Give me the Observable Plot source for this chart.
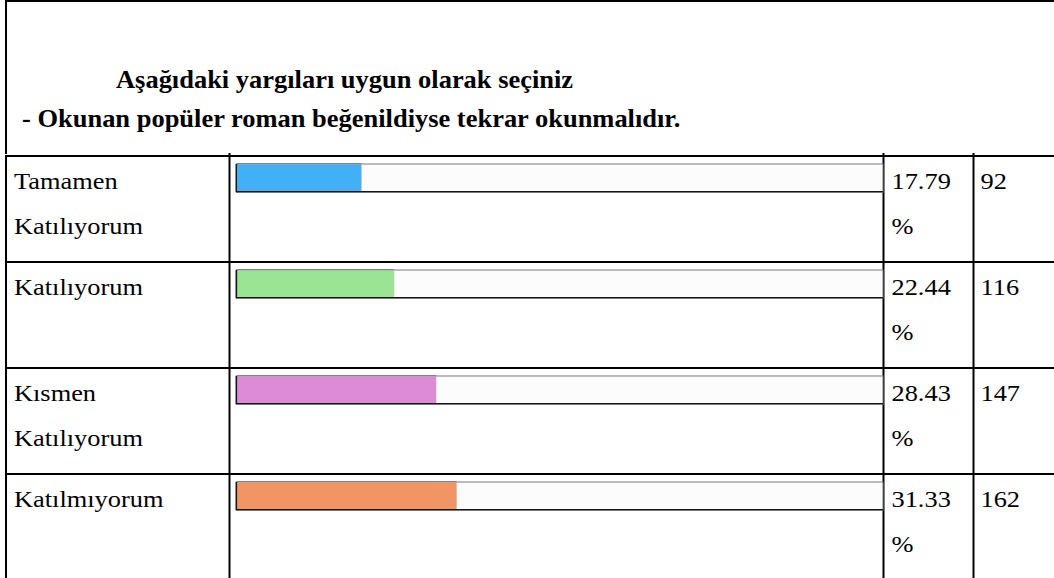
<!DOCTYPE html>
<html>
<head>
<meta charset="utf-8">
<script src="https://cdn.jsdelivr.net/npm/d3@7"></script>
<script src="https://cdn.jsdelivr.net/npm/@observablehq/plot@0.6"></script>
<style>
html,body{margin:0;padding:0;background:#fff;overflow:hidden;}
#wrap{position:relative;width:1054px;height:578px;overflow:hidden;color:#000;font-family:"Liberation Serif",serif;}
#header{position:absolute;left:0;top:0;}
#chart{position:absolute;left:0;top:153px;}
</style>
</head>
<body>
<div id="wrap">
  <div id="header"></div>
  <div id="chart"></div>
</div>
<script>
// ---- data ----
const titleLines = [
  "Aşağıdaki yargıları uygun olarak seçiniz",
  "- Okunan popüler roman beğenildiyse tekrar okunmalıdır."
];
const categories = ["Tamamen Katılıyorum", "Katılıyorum", "Kısmen Katılıyorum", "Katılmıyorum"];
const rowLabels = ["Tamamen\nKatılıyorum", "Katılıyorum", "Kısmen\nKatılıyorum", "Katılmıyorum"];
const percents = [17.79, 22.44, 28.43, 31.33];
const counts = [92, 116, 147, 162];
const barColors = ["#42b0f6", "#99e594", "#de8bd7", "#f39463"];

// ---- font metrics ----
const family = '"Liberation Serif", serif';
const ctx = document.createElement("canvas").getContext("2d");
function measure(text, weight) {
  ctx.font = `${weight} 100px ${family}`;
  const m = ctx.measureText(text);
  return {w: m.width / 100, cap: m.actualBoundingBoxAscent / 100};
}
// regular text: cap height ~15.1px; widths "Tamamen" ~106px, "17.79" ~58px
const capR = measure("T", "normal").cap || 0.662;
const fs = 15.1 / capR;
const stretch = (106 / (measure("Tamamen", "normal").w * fs) + 58 / (measure("17.79", "normal").w * fs)) / 2 || 1.165;
// bold title: cap height ~16.4px; widths ~453px and ~666px
const capB = measure("A", "bold").cap || 0.676;
const tfs = 16.4 / capB;
const tStretch = (453 / (measure(titleLines[0], "bold").w * tfs) + 666 / (measure(titleLines[1], "bold").w * tfs)) / 2 || 1.09;

// ---- header (title) ----
const header = d3.create("svg").attr("width", 1054).attr("height", 154).style("display", "block");
header.append("line").attr("x1", 6).attr("x2", 1060).attr("y1", 1).attr("y2", 1).attr("stroke", "#000").attr("stroke-width", 2);
header.append("line").attr("x1", 6).attr("x2", 6).attr("y1", 0).attr("y2", 154).attr("stroke", "#000").attr("stroke-width", 2);
const titlePos = [[116, 88], [22, 127]];
titleLines.forEach((t, i) => {
  header.append("text")
    .attr("transform", `translate(${titlePos[i][0]},${titlePos[i][1]}) scale(${tStretch},1)`)
    .attr("font-family", family).attr("font-weight", "bold").attr("font-size", tfs)
    .attr("fill", "#000").text(t);
});
document.getElementById("header").appendChild(header.node());

// ---- layout ----
const trackMax = 92;          // percent value reached at the right end of the bar track
const W = 1054, H = 425;
const rowTop = 1.4, rowH = 106.75;
const lineGap = 45;
const textDy = -rowH / 2 + 32.6 - 0.71 * lineGap;

const rows = categories.map((c, i) => ({
  cat: c,
  label: rowLabels[i],
  pct: percents[i],
  pctText: percents[i].toFixed(2) + "\n%",
  count: String(counts[i])
}));

const txt = {y: "cat", dy: textDy, textAnchor: "start", lineAnchor: "top", lineHeight: lineGap / fs, fontSize: fs, fill: "#000", fontFamily: family};

const chart = Plot.plot({
  width: W,
  height: H,
  marginTop: 0, marginBottom: 0, marginLeft: 0, marginRight: 0,
  x: {domain: [0, trackMax], range: [236.5, 883], axis: null},
  y: {domain: categories, range: [rowTop, rowTop + rowH * categories.length], padding: 0, axis: null},
  color: {domain: categories, range: barColors},
  style: {fontFamily: family, background: "transparent", overflow: "visible"},
  marks: [
    // row borders (also gives the outer left border)
    Plot.cell(rows, {y: "cat", fill: "none", stroke: "#000", strokeWidth: 2, insetLeft: 6, insetRight: -10}),
    // column separators
    Plot.ruleX([0], {dx: -7.5, stroke: "#000", strokeWidth: 2}),
    Plot.ruleX([trackMax], {stroke: "#000", strokeWidth: 2}),
    Plot.ruleX([trackMax], {dx: 90, stroke: "#000", strokeWidth: 2}),
    // bar track
    Plot.barX(rows, {x1: 0, x2: trackMax, y: "cat", fill: "#fcfcfc", stroke: "#7a7a7a", strokeWidth: 1, insetTop: 8, insetBottom: rowH - 37}),
    // value bars
    Plot.barX(rows, {x1: 0, x2: "pct", y: "cat", fill: "cat", insetLeft: 1, insetTop: 8.5, insetBottom: rowH - 36.5}),
    // dark top edge over the value part
    Plot.barX(rows, {x1: 0, x2: "pct", y: "cat", fill: "#2a2f38", insetTop: 7.6, insetBottom: rowH - 8.8}),
    // dark left edge of the track
    Plot.barX(rows, {x1: 0, x2: 0, y: "cat", fill: "#1a1a1a", insetLeft: -1, insetRight: -0.8, insetTop: 8, insetBottom: rowH - 37}),
    // dark bottom edge of the track
    Plot.barX(rows, {x1: 0, x2: trackMax, y: "cat", fill: "#151515", insetTop: 35, insetBottom: rowH - 37}),
    // texts
    Plot.text(rows, {...txt, x: 0, dx: -223, text: "label"}),
    Plot.text(rows, {...txt, x: trackMax, dx: 8, text: "pctText"}),
    Plot.text(rows, {...txt, x: trackMax, dx: 97, text: "count"})
  ]
});

chart.querySelectorAll("text").forEach(t => {
  const tr = t.getAttribute("transform") || "";
  t.setAttribute("transform", tr + ` scale(${stretch},1)`);
});

document.getElementById("chart").appendChild(chart);
</script>
</body>
</html>
